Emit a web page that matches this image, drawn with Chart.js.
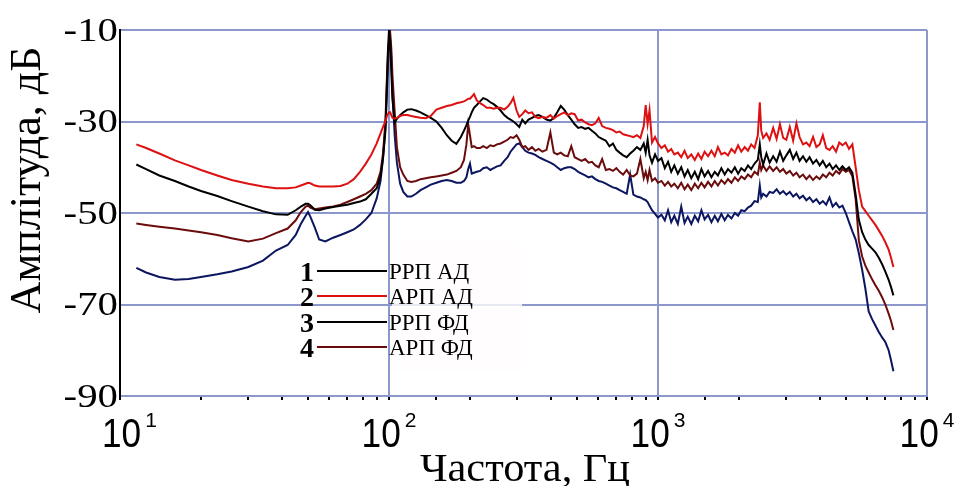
<!DOCTYPE html>
<html>
<head>
<meta charset="utf-8">
<script src="https://cdn.jsdelivr.net/npm/chart.js@4/dist/chart.umd.min.js"></script>
<style>
html,body{margin:0;padding:0;background:#fff;}
canvas{display:block;}
</style>
</head>
<body>
<canvas id="c" width="958" height="486"></canvas>
<script>
// ---- data (frequency, Hz) ----
const freq = [
11.5, 12.5, 14, 16, 18, 20, 23, 26, 30, 34,
38, 42, 45, 47, 49, 50, 51, 53, 55, 58,
62, 66, 70, 74, 78, 82, 86, 90, 93, 95,
97, 98, 99, 100, 101, 102, 103, 105, 107, 110,
113, 117, 121, 126, 131, 137, 143, 150, 157, 164,
171, 178, 185, 190, 194, 197, 200, 203, 207, 212,
218, 224, 231, 238, 245, 252, 260, 268, 276, 283,
290, 298, 305, 313, 321, 330, 340, 350, 360, 372,
385, 398, 410, 422, 435, 448, 462, 476, 490, 505,
520, 536, 552, 568, 585, 602, 620, 640, 660, 680,
700, 720, 742, 765, 788, 810, 835, 860, 885, 900,
915, 930, 950, 975, 1000, 1030, 1060, 1090, 1120, 1150,
1185, 1220, 1255, 1290, 1330, 1370, 1410, 1450, 1490, 1535,
1580, 1625, 1670, 1720, 1770, 1820, 1875, 1930, 1985, 2040,
2100, 2160, 2220, 2285, 2350, 2390, 2420, 2460, 2530, 2600,
2680, 2760, 2840, 2920, 3000, 3090, 3180, 3270, 3360, 3460,
3560, 3660, 3770, 3880, 3990, 4100, 4220, 4340, 4460, 4590,
4720, 4850, 4990, 5130, 5280, 5430, 5580, 5740, 5900, 6070,
6250, 6430, 6620, 6810, 7000, 7200, 7350, 7500
];

// 1: РРП АД (black)
const rrpAD = [
-39.4, -40.4, -41.8, -43.0, -44.2, -45.2, -46.3, -47.4, -48.6, -49.6,
-50.3, -50.4, -49.4, -48.6, -48.0, -48.0, -48.3, -49.3, -49.4, -49.0,
-48.7, -48.4, -48.2, -47.8, -47.5, -47.0, -45.8, -44.6, -42.0, -38.0,
-32.0, -24.0, -15.0, -10.0, -12.5, -19.0, -25.0, -30.2, -29.4, -28.6,
-28.0, -27.4, -27.3, -27.6, -28.0, -28.6, -29.2, -30.0, -31.4, -33.0,
-34.2, -34.9, -33.4, -32.0, -30.8, -29.8, -29.0, -28.0, -27.0, -26.4,
-25.6, -24.9, -25.2, -25.8, -26.2, -26.8, -27.6, -28.6, -29.2, -29.6,
-30.0, -30.6, -31.2, -29.6, -30.4, -29.6, -29.2, -28.8, -28.6, -29.0,
-29.6, -29.8, -29.2, -28.0, -26.6, -27.4, -28.6, -29.6, -30.6, -31.4,
-31.2, -31.6, -31.4, -32.0, -32.6, -33.4, -33.8, -34.2, -35.4, -34.8,
-36.2, -36.8, -37.4, -37.8, -37.0, -36.4, -35.6, -36.2, -34.8, -36.8,
-34.0, -37.4, -39.0, -37.2, -38.6, -38.0, -40.2, -38.8, -41.0, -39.6,
-41.4, -40.0, -42.0, -40.6, -42.4, -41.0, -42.6, -40.4, -42.0, -40.8,
-42.2, -41.0, -41.8, -40.2, -41.6, -40.4, -41.2, -40.0, -41.4, -40.2,
-40.8, -39.6, -40.4, -39.2, -38.4, -35.0, -37.8, -39.4, -37.0, -39.0,
-37.6, -38.8, -36.6, -38.6, -37.4, -36.2, -38.2, -36.8, -38.6, -37.6,
-38.8, -37.8, -39.2, -38.4, -39.6, -38.6, -40.0, -39.2, -40.4, -39.6,
-40.6, -39.8, -40.6, -40.0, -41.2, -46.0, -51.5, -54.2, -55.8, -57.0,
-57.8, -58.6, -59.8, -61.2, -62.8, -64.6, -66.2, -68.0
];

// 2: АРП АД (red)
const arpAD = [
-35.0, -35.8, -37.0, -38.5, -39.6, -40.6, -41.8, -42.8, -43.6, -44.2,
-44.6, -44.6, -44.4, -44.0, -43.6, -43.4, -43.5, -44.0, -44.2, -44.2,
-44.2, -44.1, -43.6, -42.6, -41.0, -39.2, -37.2, -34.8, -32.6, -31.2,
-30.0, -29.0, -28.4, -28.0, -28.0, -28.6, -29.2, -29.4, -29.2, -28.8,
-28.6, -28.6, -28.8, -29.0, -29.2, -29.3, -28.8, -27.4, -27.0, -26.6,
-26.4, -26.0, -25.8, -25.6, -25.3, -25.0, -25.0, -24.6, -24.0, -25.4,
-26.0, -26.4, -27.0, -27.0, -27.2, -27.0, -27.0, -27.4, -26.8, -26.0,
-24.8, -27.6, -29.0, -28.4, -27.6, -28.2, -28.0, -29.0, -29.3, -29.0,
-29.2, -28.6, -29.4, -28.8, -28.4, -28.0, -28.6, -28.2, -28.4, -29.8,
-29.6, -30.2, -30.6, -30.8, -30.4, -29.2, -31.0, -31.4, -31.6, -31.9,
-32.4, -32.2, -32.8, -33.0, -33.2, -33.4, -33.0, -33.6, -31.0, -26.4,
-30.5, -27.5, -34.6, -33.4, -34.8, -35.8, -35.2, -36.6, -36.0, -37.2,
-36.8, -37.8, -36.4, -38.0, -37.2, -38.4, -37.0, -38.2, -36.6, -37.6,
-36.4, -37.6, -35.6, -37.2, -36.8, -37.4, -36.0, -36.8, -35.2, -36.6,
-35.6, -36.4, -35.0, -35.8, -33.0, -25.8, -32.0, -33.6, -32.6, -34.0,
-31.4, -33.8, -30.6, -33.6, -34.0, -31.2, -34.2, -30.4, -33.4, -35.0,
-34.6, -35.4, -33.4, -35.6, -35.0, -33.0, -35.8, -36.2, -35.4, -36.6,
-34.6, -35.2, -34.6, -36.0, -35.0, -40.0, -45.0, -48.6, -49.6, -50.6,
-51.6, -52.6, -53.8, -55.0, -56.4, -58.0, -59.8, -61.8
];

// 3: РРП ФД (navy)
const rrpFD = [
-62.0, -63.0, -64.0, -64.6, -64.4, -64.0, -63.4, -62.8, -61.8, -60.4,
-58.2, -57.0, -54.8, -52.4, -50.6, -49.8, -50.8, -53.2, -55.8, -56.2,
-55.4, -54.8, -54.2, -53.6, -52.6, -51.4, -50.0, -46.8, -43.0, -38.0,
-31.0, -25.0, -18.0, -13.0, -12.0, -16.0, -24.0, -33.0, -39.0, -43.6,
-45.4, -46.4, -46.4, -45.8, -45.0, -44.4, -43.8, -43.4, -43.0, -42.8,
-43.0, -43.4, -43.4, -43.0, -42.2, -40.4, -39.2, -41.4, -41.2, -41.0,
-40.8, -40.2, -40.0, -40.6, -40.2, -39.8, -39.6, -38.6, -37.8, -36.6,
-35.8, -35.0, -34.8, -35.6, -36.4, -36.8, -37.0, -37.3, -37.8, -38.2,
-38.6, -39.0, -39.4, -40.0, -40.6, -40.2, -40.0, -40.0, -40.4, -41.0,
-41.4, -41.8, -42.2, -42.0, -42.6, -43.0, -43.2, -43.6, -44.0, -44.4,
-44.6, -45.0, -45.4, -45.8, -41.6, -46.0, -46.4, -46.6, -47.0, -47.2,
-47.6, -48.4, -49.4, -50.2, -51.0, -50.4, -51.6, -49.4, -52.0, -50.6,
-52.4, -48.6, -52.2, -50.8, -52.4, -50.6, -51.8, -49.4, -51.4, -50.4,
-52.0, -50.6, -51.8, -50.2, -51.6, -50.4, -51.2, -50.0, -50.6, -49.4,
-49.6, -48.8, -48.4, -47.4, -47.6, -44.0, -46.6, -45.8, -46.4, -45.4,
-45.6, -44.8, -45.8, -45.2, -46.0, -45.4, -46.4, -45.8, -46.8, -46.2,
-47.2, -46.6, -47.6, -47.0, -48.0, -47.4, -48.2, -46.6, -48.6, -47.8,
-48.8, -48.4, -50.0, -52.0, -54.0, -55.8, -58.8, -62.4, -66.5, -71.5,
-73.2, -74.6, -76.0, -77.2, -78.2, -80.0, -82.2, -84.6
];

// 4: АРП ФД (dark brown)
const arpFD = [
-52.3, -52.6, -53.0, -53.4, -53.8, -54.2, -54.8, -55.5, -56.2, -55.6,
-54.4, -53.4, -51.6, -49.8, -48.6, -48.4, -48.8, -49.2, -49.0, -48.8,
-48.6, -48.2, -47.6, -47.0, -46.4, -45.8, -45.0, -43.6, -41.0, -37.0,
-30.0, -22.0, -16.0, -12.0, -10.5, -14.0, -20.0, -28.0, -35.6, -40.0,
-41.6, -43.0, -43.2, -43.0, -42.6, -42.4, -42.2, -42.0, -41.8, -41.6,
-41.2, -40.8, -40.0, -38.4, -35.0, -30.6, -33.0, -35.6, -35.4, -35.8,
-35.8, -35.4, -35.8, -35.2, -35.4, -35.0, -34.8, -34.4, -34.0, -33.4,
-33.6, -33.0, -34.0, -35.6, -35.4, -36.2, -35.6, -36.4, -36.0, -36.6,
-36.2, -32.4, -36.8, -37.2, -36.8, -37.4, -37.6, -35.4, -37.8, -38.2,
-38.6, -38.2, -39.0, -38.8, -39.6, -40.0, -38.2, -40.6, -40.4, -40.8,
-40.2, -41.0, -41.6, -40.6, -41.8, -42.0, -41.4, -38.2, -42.4, -41.0,
-42.8, -40.6, -43.0, -42.4, -43.4, -43.0, -44.0, -43.2, -44.2, -43.6,
-44.6, -43.4, -44.8, -43.8, -45.0, -43.6, -44.6, -43.4, -44.4, -43.2,
-44.2, -43.0, -44.0, -42.8, -43.6, -42.6, -43.4, -42.2, -43.0, -42.0,
-42.6, -41.6, -42.2, -41.0, -41.6, -39.0, -40.6, -39.6, -40.8, -39.8,
-40.8, -40.0, -41.0, -40.4, -41.4, -40.8, -41.8, -41.2, -42.2, -41.6,
-42.6, -41.8, -42.8, -42.0, -42.6, -41.6, -42.2, -41.2, -41.8, -40.8,
-41.4, -40.4, -41.0, -40.6, -42.0, -47.0, -56.0, -59.5, -61.5, -63.0,
-64.5, -65.8, -67.0, -68.4, -70.0, -72.0, -73.6, -75.6
];

const legendNums = ['1', '2', '3', '4'];
const legendNames = ['РРП АД', 'АРП АД', 'РРП ФД', 'АРП ФД'];
const xTickExponents = ['1', '2', '3', '4'];
const yTitle = 'Амплітуда, дБ';
const xTitle = 'Частота, Гц';

// ---- styles ----
const GRID = '#8c98cb';
const COLORS = ['#000000', '#dd1111', '#0b165e', '#6b0c0c']; // series 1..4
const SERIF = '"Liberation Serif", "Times New Roman", serif';
const SANS = '"Liberation Sans", Arial, sans-serif';

function pts(vals) { return freq.map((f, i) => ({ x: f, y: vals[i] })); }
function isPow10(v) { const l = Math.log10(v); return Math.abs(l - Math.round(l)) < 1e-9; }

const series = [rrpAD, arpAD, rrpFD, arpFD];
const drawOrder = [1, 0, 3, 2]; // lower = on top
const datasets = series.map((s, i) => ({
  label: legendNames[i],
  data: pts(s),
  borderColor: COLORS[i],
  borderWidth: 2,
  pointRadius: 0,
  tension: 0,
  fill: false,
  order: drawOrder[i]
}));

const textPlugin = {
  id: 'texts',
  beforeDatasetsDraw(chart) {
    const ctx = chart.ctx;
    ctx.save();
    ctx.fillStyle = 'rgba(255,252,252,0.8)';
    ctx.fillRect(392, 241, 130, 131);
    ctx.restore();
  },
  afterDraw(chart) {
    const ctx = chart.ctx;
    const ys = chart.scales.y, xs = chart.scales.x;
    ctx.save();
    ctx.fillStyle = '#000';
    // y tick labels
    ctx.font = '34px ' + SERIF;
    ctx.textAlign = 'right';
    ctx.textBaseline = 'middle';
    ys.ticks.forEach(t => {
      const py = ys.getPixelForValue(t.value);
      ctx.save();
      ctx.translate(118, py + 2);
      ctx.scale(1.2, 1);
      ctx.fillText(String(t.value), 0, 0);
      ctx.restore();
    });
    // x tick labels 10^n
    ctx.textAlign = 'left';
    ctx.textBaseline = 'alphabetic';
    xTickExponents.forEach(e => {
      const v = Math.pow(10, Number(e));
      const px = xs.getPixelForValue(v);
      ctx.font = '40px ' + SANS;
      const w1 = ctx.measureText('10').width * 0.88;
      ctx.font = '21px ' + SANS;
      const w2 = ctx.measureText(e).width;
      let left = px - (w1 + 4 + w2) / 2;
      if (left < 102) left = 102;
      ctx.save();
      ctx.font = '40px ' + SANS;
      ctx.translate(left, 447);
      ctx.scale(0.88, 1);
      ctx.fillText('10', 0, 0);
      ctx.restore();
      ctx.font = '21px ' + SANS;
      ctx.fillText(e, left + w1 + 4, 427);
    });
    // x title
    ctx.save();
    ctx.font = '40px ' + SERIF;
    ctx.textAlign = 'center';
    ctx.translate(525, 481);
    ctx.scale(1.06, 1);
    ctx.fillText(xTitle, 0, 0);
    ctx.restore();
    // y title
    ctx.save();
    ctx.font = '44px ' + SERIF;
    ctx.textAlign = 'center';
    ctx.translate(40, 180);
    ctx.rotate(-Math.PI / 2);
    ctx.fillText(yTitle, 0, 0);
    ctx.restore();
    // legend
    const rows = [271, 296, 322, 347];
    legendNums.forEach((n, i) => {
      const y = rows[i];
      ctx.font = 'bold 28px ' + SERIF;
      ctx.textAlign = 'right';
      ctx.textBaseline = 'alphabetic';
      ctx.fillStyle = '#000';
      ctx.fillText(n, 314, y + 10);
      ctx.strokeStyle = i === 2 ? '#000' : COLORS[i];
      ctx.lineWidth = 2;
      ctx.beginPath();
      ctx.moveTo(317, y);
      ctx.lineTo(387, y);
      ctx.stroke();
      ctx.font = '23px ' + SERIF;
      ctx.textAlign = 'left';
      ctx.fillText(legendNames[i], 389, y + 8);
    });
    ctx.restore();
  }
};

new Chart(document.getElementById('c'), {
  type: 'line',
  data: { datasets },
  options: {
    responsive: false,
    animation: false,
    devicePixelRatio: 1,
    layout: { padding: { left: 0, right: 31, top: 30, bottom: 0 } },
    plugins: { legend: { display: false }, tooltip: { enabled: false } },
    scales: {
      x: {
        type: 'logarithmic',
        min: 10,
        max: 10000,
        afterFit: s => { s.height = 90; },
        ticks: { display: false },
        grid: {
          color: c => (c.tick && isPow10(c.tick.value)) ? GRID : 'rgba(0,0,0,0)',
          lineWidth: 2,
          drawTicks: true,
          tickLength: 4,
          tickColor: '#000',
          tickWidth: 2
        },
        border: { display: true, color: GRID, width: 2 }
      },
      y: {
        type: 'linear',
        min: -90,
        max: -10,
        afterFit: s => { s.width = 120; },
        ticks: { display: false, stepSize: 20 },
        grid: { color: GRID, lineWidth: 2, drawTicks: false },
        border: { display: true, color: '#000', width: 2 }
      }
    }
  },
  plugins: [textPlugin]
});
</script>
</body>
</html>
